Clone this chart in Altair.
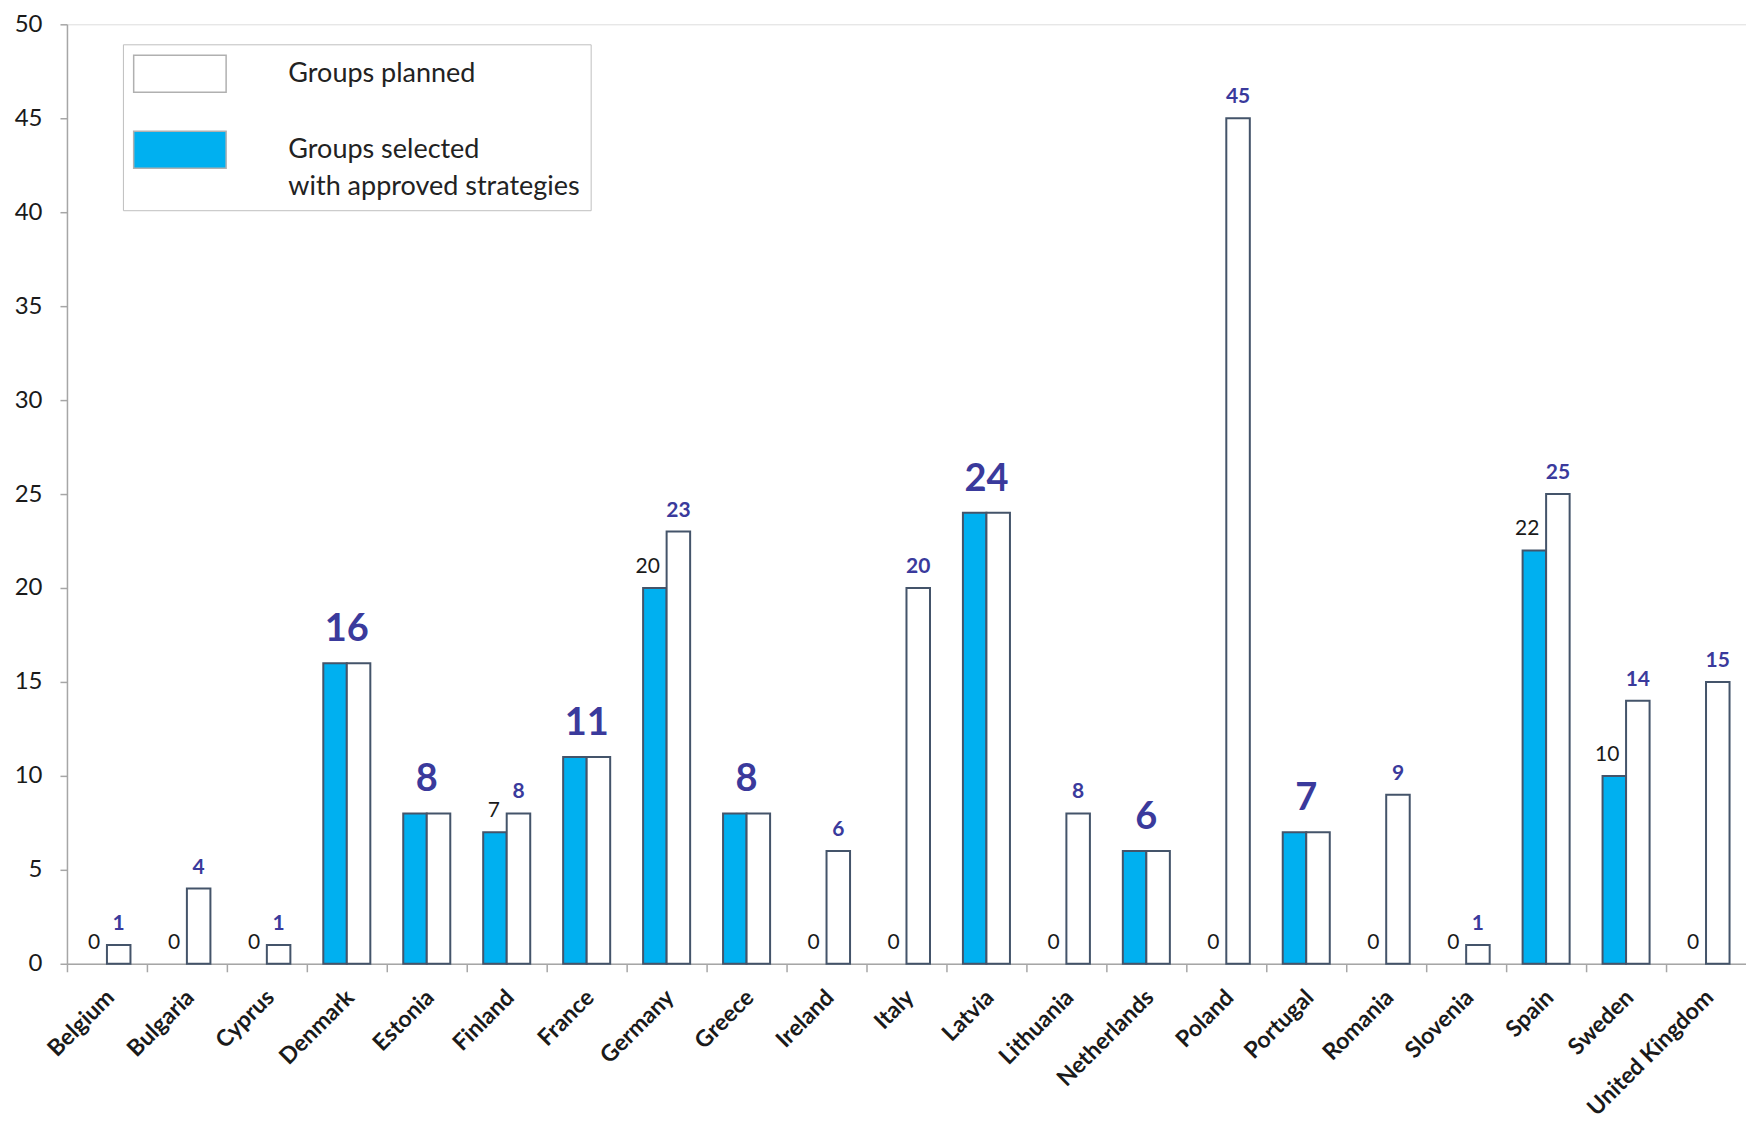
import altair as alt
import pandas as pd

countries = ["Belgium", "Bulgaria", "Cyprus", "Denmark", "Estonia", "Finland", "France",
             "Germany", "Greece", "Ireland", "Italy", "Latvia", "Lithuania", "Netherlands",
             "Poland", "Portugal", "Romania", "Slovenia", "Spain", "Sweden", "United Kingdom"]
selected = [0, 0, 0, 16, 8, 7, 11, 20, 8, 0, 0, 24, 0, 6, 0, 7, 0, 0, 22, 10, 0]
planned = [1, 4, 1, 16, 8, 8, 11, 23, 8, 6, 20, 24, 8, 6, 45, 7, 9, 1, 25, 14, 15]
series_names = ["Groups planned", "Groups selected"]
series_colors = ["#FFFFFF", "#00B0F0"]
y_ticks = list(range(0, 51, 5))

rows = []
for c, s, p in zip(countries, selected, planned):
    rows.append({"country": c, "series": "Groups selected", "value": s, "equal": s == p})
    rows.append({"country": c, "series": "Groups planned", "value": p, "equal": s == p})
df = pd.DataFrame(rows)

FONT = "Lato"
LABEL_BLUE = "#3A3A9C"

x_enc = alt.X("country:N", sort=countries,
              scale=alt.Scale(paddingInner=0, paddingOuter=0),
              axis=alt.Axis(title=None, bandPosition=0, labelOffset=-4, labelAngle=-45,
                            labelAlign="right", labelBaseline="top",
                            labelFont=FONT, labelFontSize=23, labelFontWeight="bold",
                            labelColor="#1a1a1a", labelPadding=14,
                            domainColor="#a6a6a6", domainWidth=1.5,
                            tickColor="#a6a6a6", tickWidth=1.5, tickSize=8))
xoff_enc = alt.XOffset("series:N",
                       scale=alt.Scale(domain=["Groups selected", "Groups planned"],
                                       paddingOuter=0.7, paddingInner=0))
y_enc = alt.Y("value:Q", scale=alt.Scale(domain=[0, 50], nice=False),
              axis=alt.Axis(title=None, values=y_ticks, grid=False,
                            labelFont=FONT, labelFontSize=24, labelColor="#1a1a1a",
                            labelPadding=18,
                            domainColor="#a6a6a6", domainWidth=1.5,
                            tickColor="#a6a6a6", tickWidth=1.5, tickSize=7))

base = alt.Chart(df)

bars = base.transform_filter("datum.value > 0").mark_bar(
    stroke="#44546A", strokeWidth=2
).encode(
    x=x_enc, xOffset=xoff_enc, y=y_enc,
    fill=alt.Fill("series:N",
                  scale=alt.Scale(domain=series_names, range=series_colors),
                  legend=alt.Legend(
                      title=None, orient="none", legendX=56, legendY=20,
                      direction="vertical",
                      symbolType="M-2.5,-1H2.5V1H-2.5Z", symbolSize=1369,
                      symbolOffset=27.5,
                      symbolStrokeColor="#b0b0b0", symbolStrokeWidth=1.5,
                      labelFont=FONT, labelFontSize=27, labelColor="#222222",
                      labelOffset=89, labelLimit=800, labelBaseline="middle",
                      labelExpr="datum.label == 'Groups selected' ? ['Groups selected', 'with approved strategies\u2003'] : datum.label",
                      rowPadding=33, padding=10,
                      strokeColor="#bfbfbf", fillColor="#ffffff"))
)

big = base.transform_filter(
    "datum.equal && datum.series == 'Groups planned'"
).mark_text(
    font=FONT, fontSize=38, fontWeight="bold", color=LABEL_BLUE,
    baseline="alphabetic", dy=-22
).encode(x=x_enc, y=y_enc, text="value:Q")

small_planned = base.transform_filter(
    "!datum.equal && datum.series == 'Groups planned'"
).mark_text(
    font=FONT, fontSize=21, fontWeight="bold", color=LABEL_BLUE,
    baseline="alphabetic", dy=-15
).encode(x=x_enc, xOffset=xoff_enc, y=y_enc, text="value:Q")

small_selected = base.transform_filter(
    "!datum.equal && datum.series == 'Groups selected'"
).mark_text(
    font=FONT, fontSize=21, color="#1a1a1a", align="right", dx=5,
    baseline="alphabetic", dy=-15
).encode(x=x_enc, xOffset=xoff_enc, y=y_enc, text="value:Q")

chart = alt.layer(bars, big, small_planned, small_selected).properties(
    width=1680, height=940,
    autosize=alt.AutoSizeParams(type="none"),
    padding={"left": 59, "top": 16, "right": 0, "bottom": 156}
).configure_view(stroke=None).configure(
    style={"guide-label": {"lineHeight": 37}}
)

chart.save("out.html", embed_options={"renderer": "svg", "actions": False})
